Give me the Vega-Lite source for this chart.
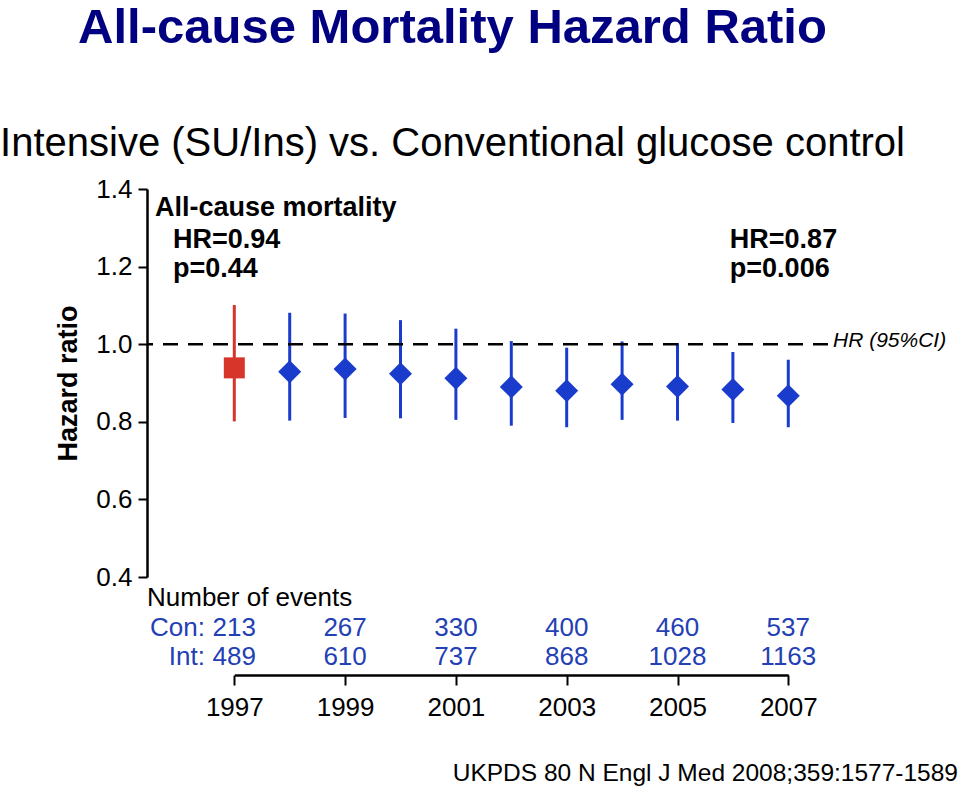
{
  "$schema": "https://vega.github.io/schema/vega-lite/v6.json",
  "background": "white",
  "padding": {"left": 0, "top": 4, "right": 2, "bottom": 2},
  "bounds": "flush",
  "spacing": 0,
  "config": {
    "font": "Liberation Sans",
    "view": {"stroke": null},
    "concat": {"spacing": 0}
  },
  "title": {
    "text": "All-cause Mortality Hazard Ratio",
    "subtitle": "Intensive (SU/Ins) vs. Conventional glucose control",
    "anchor": "middle",
    "frame": "group",
    "fontSize": 49,
    "fontWeight": "bold",
    "color": "#000080",
    "subtitleFontSize": 40,
    "subtitleColor": "black",
    "subtitleFont": "Liberation Sans",
    "subtitlePadding": 71,
    "offset": 12,
    "dx": -35
  },
  "datasets": {
    "hr": [
      {"year": 1997, "period": "Trial end", "hr": 0.939, "lo": 0.801, "hi": 1.101},
      {"year": 1998, "period": "Post-trial", "hr": 0.929, "lo": 0.803, "hi": 1.081},
      {"year": 1999, "period": "Post-trial", "hr": 0.936, "lo": 0.810, "hi": 1.079},
      {"year": 2000, "period": "Post-trial", "hr": 0.924, "lo": 0.809, "hi": 1.062},
      {"year": 2001, "period": "Post-trial", "hr": 0.912, "lo": 0.805, "hi": 1.040},
      {"year": 2002, "period": "Post-trial", "hr": 0.890, "lo": 0.790, "hi": 1.008},
      {"year": 2003, "period": "Post-trial", "hr": 0.880, "lo": 0.786, "hi": 0.991},
      {"year": 2004, "period": "Post-trial", "hr": 0.897, "lo": 0.805, "hi": 1.007},
      {"year": 2005, "period": "Post-trial", "hr": 0.891, "lo": 0.803, "hi": 1.003},
      {"year": 2006, "period": "Post-trial", "hr": 0.883, "lo": 0.797, "hi": 0.980},
      {"year": 2007, "period": "Post-trial", "hr": 0.867, "lo": 0.786, "hi": 0.960}
    ],
    "events": [
      {"year": 1997, "group": "Con:", "n": 213},
      {"year": 1999, "group": "Con:", "n": 267},
      {"year": 2001, "group": "Con:", "n": 330},
      {"year": 2003, "group": "Con:", "n": 400},
      {"year": 2005, "group": "Con:", "n": 460},
      {"year": 2007, "group": "Con:", "n": 537},
      {"year": 1997, "group": "Int:", "n": 489},
      {"year": 1999, "group": "Int:", "n": 610},
      {"year": 2001, "group": "Int:", "n": 737},
      {"year": 2003, "group": "Int:", "n": 868},
      {"year": 2005, "group": "Int:", "n": 1028},
      {"year": 2007, "group": "Int:", "n": 1163}
    ],
    "groups": [
      {"group": "Con:"},
      {"group": "Int:"}
    ]
  },
  "vconcat": [
    {
      "width": 681,
      "height": 388,
      "layer": [
        {
          "data": {"name": "hr"},
          "mark": {"type": "rule", "strokeWidth": 3},
          "encoding": {
            "x": {
              "field": "year",
              "type": "quantitative",
              "scale": {"domain": [1995.424, 2007.717], "nice": false, "zero": false},
              "axis": null
            },
            "y": {
              "field": "lo",
              "type": "quantitative",
              "scale": {"domain": [0.4, 1.4], "nice": false, "zero": false},
              "axis": {
                "values": [0.4, 0.6, 0.8, 1.0, 1.2, 1.4],
                "format": ".1f",
                "grid": false,
                "domainColor": "black",
                "domainWidth": 2.5,
                "tickColor": "black",
                "tickWidth": 2,
                "tickSize": 9,
                "labelFontSize": 26,
                "labelColor": "black",
                "labelPadding": 6,
                "title": "Hazard ratio",
                "titleFontSize": 27,
                "titleFontWeight": "bold",
                "titleColor": "black",
                "titlePadding": 13
              }
            },
            "y2": {"field": "hi"},
            "color": {
              "field": "period",
              "type": "nominal",
              "scale": {"domain": ["Trial end", "Post-trial"], "range": ["#d8352a", "#1a3ccc"]},
              "legend": null
            }
          }
        },
        {
          "data": {"values": [{}]},
          "mark": {"type": "rule", "strokeDash": [15, 10], "strokeWidth": 2.5, "color": "black"},
          "encoding": {"y": {"datum": 1.0}}
        },
        {
          "data": {"name": "hr"},
          "mark": {"type": "point", "filled": true, "opacity": 1, "strokeWidth": 0},
          "encoding": {
            "x": {"field": "year", "type": "quantitative"},
            "y": {"field": "hr", "type": "quantitative"},
            "color": {"field": "period", "type": "nominal", "legend": null},
            "shape": {
              "field": "period",
              "type": "nominal",
              "scale": {"domain": ["Trial end", "Post-trial"], "range": ["square", "diamond"]},
              "legend": null
            },
            "size": {
              "field": "period",
              "type": "nominal",
              "scale": {"domain": ["Trial end", "Post-trial"], "range": [441, 530]},
              "legend": null
            }
          }
        },
        {
          "data": {"values": [{}]},
          "mark": {"type": "text", "fontSize": 27, "fontWeight": "bold", "color": "black", "align": "left", "baseline": "alphabetic"},
          "encoding": {
            "x": {"datum": 1995.569},
            "y": {"datum": 1.3298},
            "text": {"value": "All-cause mortality"}
          }
        },
        {
          "data": {"values": [{}]},
          "mark": {"type": "text", "fontSize": 27, "fontWeight": "bold", "color": "black", "align": "left", "baseline": "alphabetic", "lineHeight": 29.5},
          "encoding": {
            "x": {"datum": 1995.893},
            "y": {"datum": 1.248},
            "text": {"value": ["HR=0.94", "p=0.44"]}
          }
        },
        {
          "data": {"values": [{}]},
          "mark": {"type": "text", "fontSize": 27, "fontWeight": "bold", "color": "black", "align": "left", "baseline": "alphabetic", "lineHeight": 29.5},
          "encoding": {
            "x": {"datum": 2005.945},
            "y": {"datum": 1.248},
            "text": {"value": ["HR=0.87", "p=0.006"]}
          }
        },
        {
          "data": {"values": [{}]},
          "mark": {"type": "text", "fontSize": 21, "fontStyle": "italic", "color": "black", "align": "left", "baseline": "alphabetic"},
          "encoding": {
            "x": {"datum": 2007.807},
            "y": {"datum": 0.993},
            "text": {"value": "HR (95%CI)"}
          }
        }
      ]
    },
    {
      "width": 681,
      "height": 98,
      "title": {
        "text": "UKPDS 80 N Engl J Med 2008;359:1577-1589",
        "orient": "bottom",
        "anchor": "end",
        "frame": "group",
        "fontSize": 24.5,
        "fontWeight": "normal",
        "color": "black",
        "dx": 130,
        "offset": 42
      },
      "layer": [
        {
          "data": {"name": "events"},
          "mark": {"type": "text", "fontSize": 26, "color": "#2340b4", "baseline": "middle"},
          "encoding": {
            "x": {
              "field": "year",
              "type": "quantitative",
              "scale": {"domain": [1997, 2007], "range": [87.3, 641.3], "nice": false, "zero": false},
              "axis": {
                "values": [1997, 1999, 2001, 2003, 2005, 2007],
                "format": "d",
                "grid": false,
                "domainColor": "black",
                "domainWidth": 2.5,
                "tickColor": "black",
                "tickWidth": 2,
                "tickSize": 10,
                "labelFontSize": 26,
                "labelColor": "black",
                "labelPadding": 9,
                "labelFlush": false,
                "labelOverlap": false,
                "title": null
              }
            },
            "y": {
              "field": "group",
              "type": "nominal",
              "scale": {"type": "point", "domain": ["Number of events", "Con:", "Int:"], "padding": 0.661, "align": 0.54},
              "axis": null
            },
            "text": {"field": "n", "type": "quantitative", "format": "d"}
          }
        },
        {
          "data": {"name": "groups"},
          "mark": {"type": "text", "fontSize": 26, "color": "#2340b4", "align": "right", "baseline": "middle"},
          "encoding": {
            "x": {"datum": 1996.47},
            "y": {"field": "group", "type": "nominal"},
            "text": {"field": "group", "type": "nominal"}
          }
        },
        {
          "data": {"values": [{}]},
          "mark": {"type": "text", "fontSize": 26, "color": "black", "align": "left", "baseline": "middle"},
          "encoding": {
            "x": {"datum": 1995.424},
            "y": {"datum": "Number of events"},
            "text": {"value": "Number of events"}
          }
        }
      ]
    }
  ]
}
